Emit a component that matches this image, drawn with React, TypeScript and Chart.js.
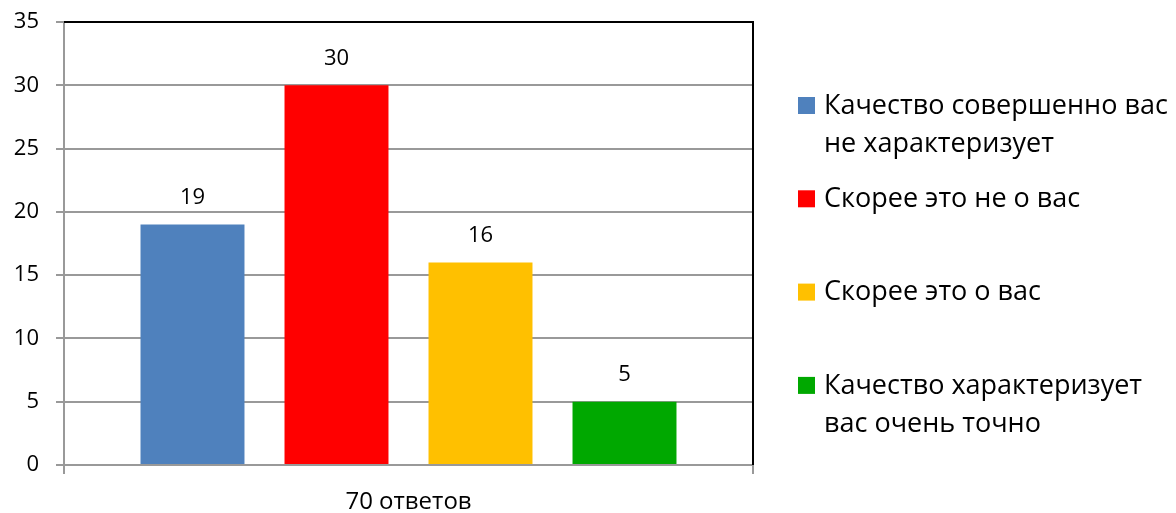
import React, { useEffect, useRef } from "react";
import { Chart, registerables } from "chart.js";

Chart.register(...registerables);

const categories = ["70 ответов"];
const seriesNames = [
  "Качество совершенно вас не характеризует",
  "Скорее это не о вас",
  "Скорее это о вас",
  "Качество характеризует вас очень точно",
];
const legendLines = [
  ["Качество совершенно вас", "не характеризует"],
  ["Скорее это не о вас"],
  ["Скорее это о вас"],
  ["Качество характеризует", "вас очень точно"],
];
const seriesValues = [19, 30, 16, 5];
const seriesColors = ["#4f81bd", "#ff0000", "#ffc000", "#00a800"];
const yMax = 35;
const yStep = 5;

const FONT = "'Open Sans', Lato, sans-serif";

const PLOT = { left: 64, top: 22, right: 753, bottom: 465 };

const valueLabels = {
  id: "valueLabels",
  afterDatasetsDraw(chart: any) {
    const ctx = chart.ctx;
    ctx.save();
    ctx.fillStyle = "#000";
    ctx.font = `22px ${FONT}`;
    ctx.textAlign = "center";
    ctx.textBaseline = "middle";
    chart.data.datasets.forEach((ds: any, i: number) => {
      const meta = chart.getDatasetMeta(i);
      meta.data.forEach((bar: any, j: number) => {
        ctx.fillText(String(ds.data[j]), bar.x, bar.y - 27);
      });
    });
    ctx.restore();
  },
};

const frame = {
  id: "frame",
  afterDraw(chart: any) {
    const { ctx, chartArea } = chart;
    ctx.save();
    ctx.strokeStyle = "#000";
    ctx.lineWidth = 2;
    ctx.beginPath();
    ctx.moveTo(chartArea.left, chartArea.top);
    ctx.lineTo(chartArea.right, chartArea.top);
    ctx.lineTo(chartArea.right, chartArea.bottom);
    ctx.stroke();
    ctx.restore();
  },
};

const sideLegend = {
  id: "sideLegend",
  afterDraw(chart: any) {
    const ctx = chart.ctx;
    ctx.save();
    ctx.font = `27px ${FONT}`;
    ctx.textBaseline = "middle";
    ctx.textAlign = "left";
    const startY = 106;
    const step = 93.3;
    const lineH = 38;
    chart.data.datasets.forEach((ds: any, i: number) => {
      const y = startY + i * step;
      ctx.fillStyle = ds.backgroundColor;
      ctx.fillRect(798, y - 9, 17, 17);
      ctx.fillStyle = "#000";
      legendLines[i].forEach((line, k) => {
        ctx.fillText(line, 824, y + k * lineH);
      });
    });
    ctx.restore();
  },
};

export default function App() {
  const ref = useRef<HTMLCanvasElement | null>(null);
  useEffect(() => {
    if (!ref.current) return;
    const chart = new Chart(ref.current, {
      type: "bar",
      data: {
        labels: categories,
        datasets: seriesNames.map((name, i) => ({
          label: name,
          data: [seriesValues[i]],
          backgroundColor: seriesColors[i],
          borderWidth: 0,
          categoryPercentage: 0.836,
          barPercentage: 0.722,
        })),
      },
      options: {
        animation: false,
        responsive: true,
        maintainAspectRatio: false,
        layout: { padding: { left: 0, top: PLOT.top, right: 1176 - PLOT.right, bottom: 0 } },
        plugins: {
          legend: { display: false },
          tooltip: { enabled: false },
        },
        scales: {
          x: {
            offset: true,
            grid: {
              offset: true,
              drawOnChartArea: false,
              drawTicks: true,
              tickLength: 9,
              color: "#999",
              lineWidth: 2,
            },
            border: { color: "#999", width: 2 },
            ticks: { color: "#000", font: { family: FONT, size: 24 }, padding: 14 },
            afterFit(scale: any) {
              scale.height = 513 - PLOT.bottom;
              scale.paddingLeft = 0;
              scale.paddingRight = 0;
            },
          },
          y: {
            min: 0,
            max: yMax,
            ticks: { stepSize: yStep, color: "#000", font: { family: FONT, size: 22 }, padding: 17 },
            grid: { color: "#999", lineWidth: 2, tickLength: 8 },
            border: { color: "#999", width: 2 },
            afterFit(scale: any) {
              scale.width = PLOT.left;
              scale.paddingTop = 0;
              scale.paddingBottom = 0;
            },
          },
        },
      },
      plugins: [valueLabels, frame, sideLegend],
    });
    return () => chart.destroy();
  }, []);
  return (
    <div style={{ position: "absolute", left: 0, top: 0, width: 1176, height: 513, background: "#fff" }}>
      <canvas ref={ref} />
    </div>
  );
}
